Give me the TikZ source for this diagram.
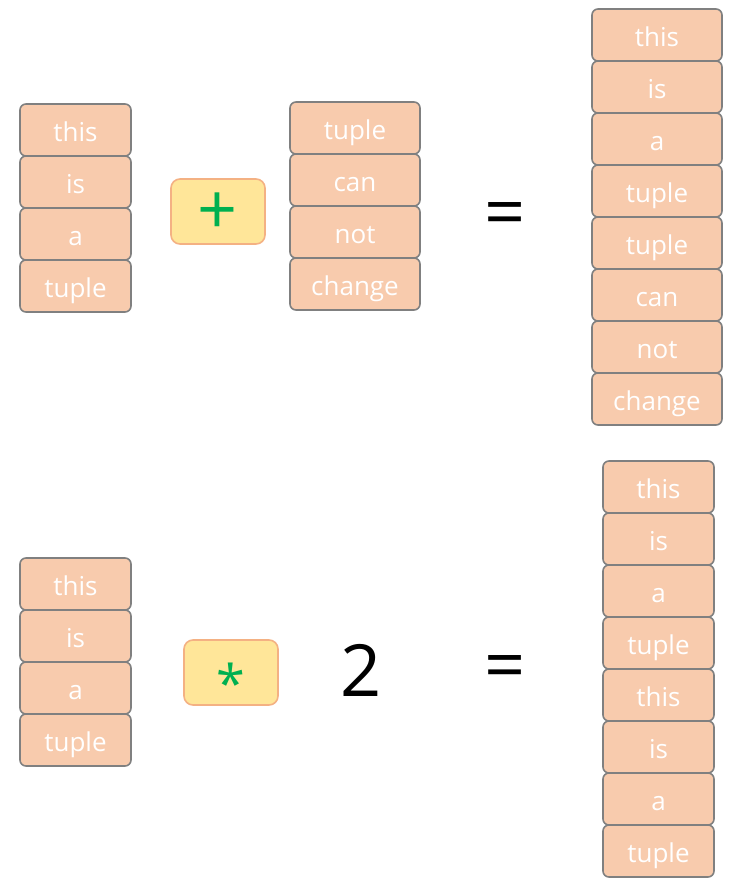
\documentclass[tikz,border=0pt]{standalone}
\usepackage{fontspec}
\setmainfont{Open Sans}
\definecolor{cellfill}{HTML}{F8CBAD}
\definecolor{celldraw}{HTML}{808080}
\definecolor{opfill}{HTML}{FFE699}
\definecolor{opdraw}{HTML}{F4B183}
\definecolor{opsign}{HTML}{00B050}
\tikzset{
	cell/.style={draw=celldraw,fill=cellfill,line width=1.6pt,rounded corners=6pt,text=white,
		font=\fontsize{26}{30}\selectfont,inner sep=0pt,minimum height=52pt,text height=25pt,text depth=2pt},
	opbox/.style={draw=opdraw,fill=opfill,line width=1.6pt,rounded corners=9pt,text=opsign,
		minimum width=94pt,minimum height=65pt,inner sep=0pt},
	bigsign/.style={font=\fontsize{72}{80}\selectfont,inner sep=0pt}
}
\begin{document}
\begin{tikzpicture}[x=1pt,y=-1pt,line join=round,
		declare function={hC = 52; xL = 75.5; xM = 355; xR = 657; xRb = 658.5; yLt = 130; yMt = 128; yRt = 35; yLb = 584; yRb = 487;}]
	\useasboundingbox (0,0) rectangle (729,884);
	%% phép cộng
	\foreach \w [count=\i] in {this,is,a,tuple}
		\node[cell,minimum width=111pt] (L\i) at (xL,{yLt+hC*(\i-1)}) {\w};
	\node[opbox,font=\fontsize{70}{76}\selectfont,text height=46pt,text depth=0pt] (plus) at (218,211.5) {+};
	\foreach \w [count=\i] in {tuple,can,not,change}
		\node[cell,minimum width=130pt] (M\i) at (xM,{yMt+hC*(\i-1)}) {\w};
	\node[bigsign] (eqT) at (505,220) {=};
	\foreach \w [count=\i] in {this,is,a,tuple,tuple,can,not,change}
		\node[cell,minimum width=130pt] (R\i) at (xR,{yRt+hC*(\i-1)}) {\w};
	%% phép nhân
	\foreach \w [count=\i] in {this,is,a,tuple}
		\node[cell,minimum width=111pt] (P\i) at (xL,{yLb+hC*(\i-1)}) {\w};
	\node[opbox,font=\fontsize{52}{60}\selectfont,text height=60pt,text depth=0pt] (times) at (231,672.5) {*};
	\node[bigsign] (two) at (361,670) {2};
	\node[bigsign] (eqB) at (505,673) {=};
	\foreach \w [count=\i] in {this,is,a,tuple,this,is,a,tuple}
		\node[cell,minimum width=111pt] (Q\i) at (xRb,{yRb+hC*(\i-1)}) {\w};
\end{tikzpicture}
\end{document}
